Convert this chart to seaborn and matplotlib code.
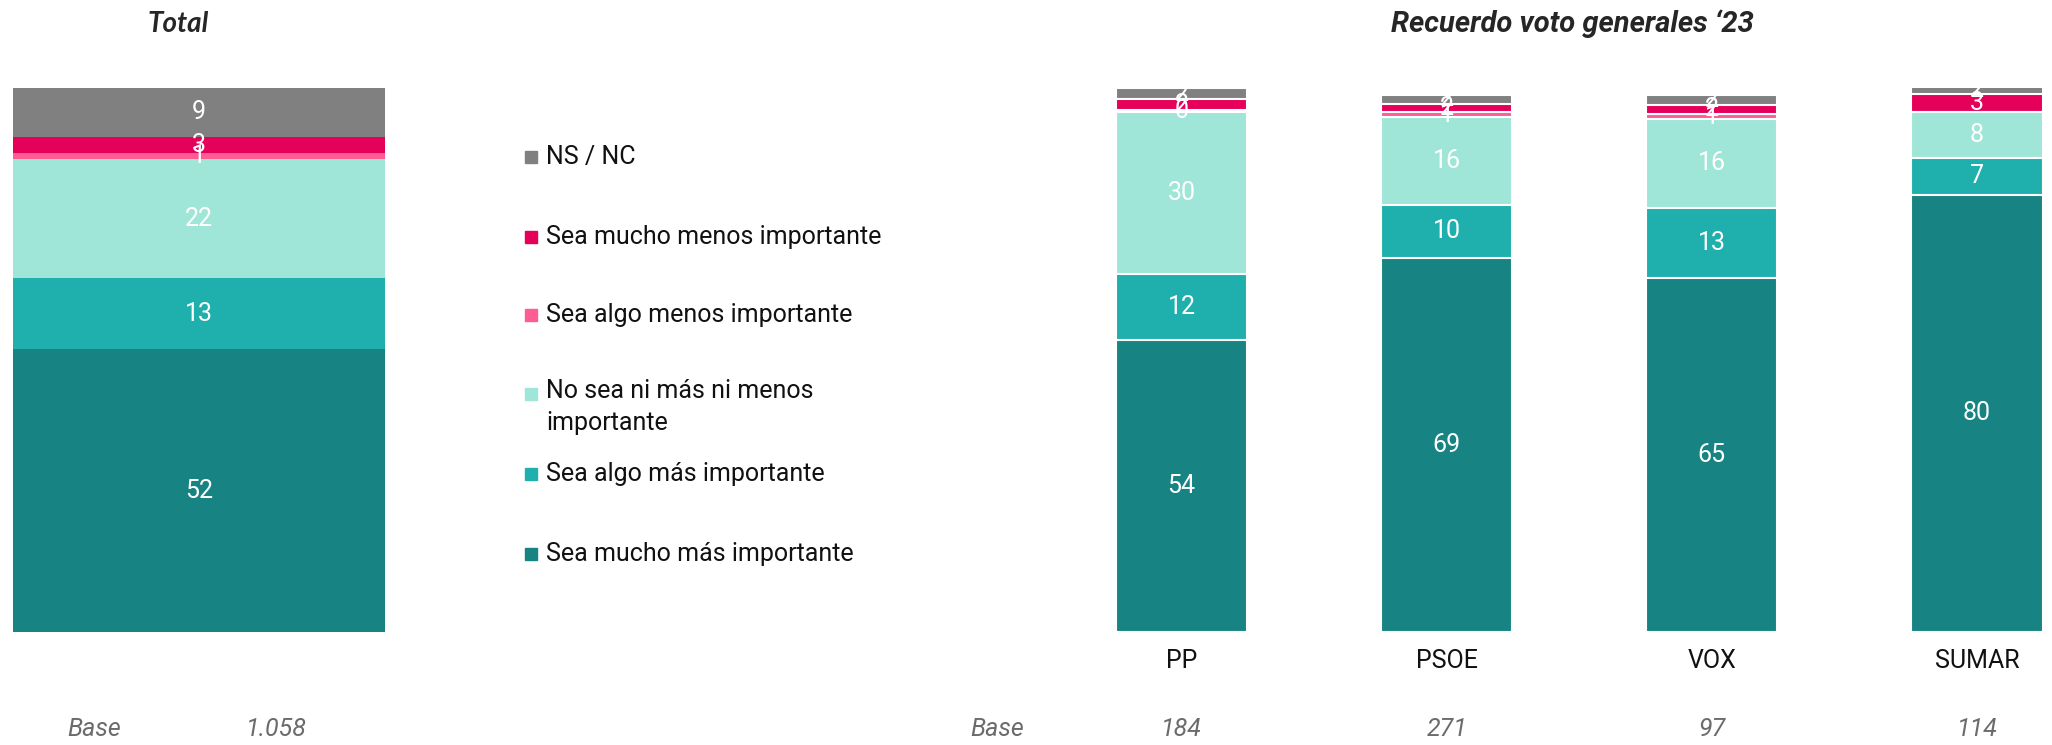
import matplotlib.pyplot as plt
import matplotlib.patches as mpatches
import pandas as pd
import numpy as np
import seaborn as sns

# answer categories, bottom to top of the stack
levels = ["Sea mucho más importante", "Sea algo más importante",
          "No sea ni más ni menos\nimportante", "Sea algo menos importante",
          "Sea mucho menos importante", "NS / NC"]
colors = ["#178483", "#1FB0AE", "#A0E6D8", "#FF5C93", "#E5005A", "#808080"]

total_vals = [52, 13, 22, 1, 3, 9]
total_base = "1.058"

parties = ["PP", "PSOE", "VOX", "SUMAR"]
party_bases = ["184", "271", "97", "114"]
pp_vals = [53.6, 12.3, 29.6, 0.4, 2.0, 2.1]
psoe_vals = [68.8, 9.7, 16.1, 0.9, 1.6, 1.7]
vox_vals = [65.0, 13.0, 16.3, 0.9, 1.7, 1.8]
sumar_vals = [80.4, 6.7, 8.4, 0.0, 3.4, 1.5]

sns.set_style("white")
plt.rcParams['font.family'] = ['Roboto', 'DejaVu Sans']

W, H = 2052, 745
fig = plt.figure(figsize=(W / 100, H / 100), dpi=100)

def px_axes(x0, x1, y_top, y_bot):
    return fig.add_axes([x0 / W, (H - y_bot) / H, (x1 - x0) / W, (y_bot - y_top) / H])

ax1 = px_axes(13, 385, 88, 632)
ax2 = px_axes(1049, W, 88, 632)


def stacked(ax, cats, table, width, edge, lw):
    df = pd.DataFrame(table, index=levels, columns=cats).T
    cum = df.cumsum(axis=1)
    # draw tallest cumulative first, each lower layer overlays it
    for lev, col in reversed(list(zip(levels, colors))):
        sns.barplot(x=cats, y=cum[lev].values, color=col, width=width,
                    edgecolor=edge, linewidth=lw, saturation=1, ax=ax)
    for i, c in enumerate(cats):
        for lev in levels:
            v = df.loc[c, lev]
            if v <= 0:
                continue
            ax.text(i, cum.loc[c, lev] - v / 2, f"{round(v):.0f}", color="white",
                    ha="center", va="center", fontsize=18)
    ax.set_ylim(0, 100)
    ax.axis("off")


total_table = np.array([total_vals]).T
stacked(ax1, ["Total"], total_table, 1.0, "none", 0)
ax1.set_xlim(-0.5, 0.5)

party_table = np.array([pp_vals, psoe_vals, vox_vals, sumar_vals]).T
stacked(ax2, parties, party_table, 0.495, "white", 1.5)
ax2.set_xlim(-0.5, 3 + (W - 1977) / 265)
for i, p in enumerate(parties):
    ax2.text(i, -5.3, p, ha="center", va="center", fontsize=18, color="#111111")

# titles
fig.text(178 / W, 1 - 24 / H, "Total", ha="center", va="center", fontsize=20,
         fontweight="bold", fontstyle="italic", family=["Lato", "DejaVu Sans"])
fig.text(1572 / W, 1 - 24 / H, "Recuerdo voto generales ‘23", ha="center", va="center",
         fontsize=21, fontweight="bold", fontstyle="italic")

# legend, placed item by item
leg_y = [554, 474, 394, 315, 237, 157]
for lev, col, y in zip(levels, colors, leg_y):
    fig.add_artist(mpatches.Rectangle((525 / W, 1 - (y + 6) / H), 12 / W, 12 / H,
                                      color=col, transform=fig.transFigure))
    if "\n" in lev:
        fig.text(546 / W, 1 - (y - 15) / H, lev, ha="left", va="top", fontsize=18,
                 color="#111111", linespacing=1.4)
    else:
        fig.text(546 / W, 1 - y / H, lev, ha="left", va="center", fontsize=18,
                 color="#111111")

# base row
base_y = 1 - 729 / H
fig.text(94 / W, base_y, "Base", ha="center", va="center", fontsize=18,
         fontstyle="italic", color="#6b6b6b")
fig.text(276 / W, base_y, total_base, ha="center", va="center", fontsize=18,
         fontstyle="italic", color="#6b6b6b")
fig.text(997 / W, base_y, "Base", ha="center", va="center", fontsize=18,
         fontstyle="italic", color="#6b6b6b")
for i, b in enumerate(party_bases):
    xc = ax2.transData.transform((i, 0))[0]
    fig.text(xc / W, base_y, b, ha="center", va="center", fontsize=18,
             fontstyle="italic", color="#6b6b6b")

fig.savefig("out.png", dpi=100)
